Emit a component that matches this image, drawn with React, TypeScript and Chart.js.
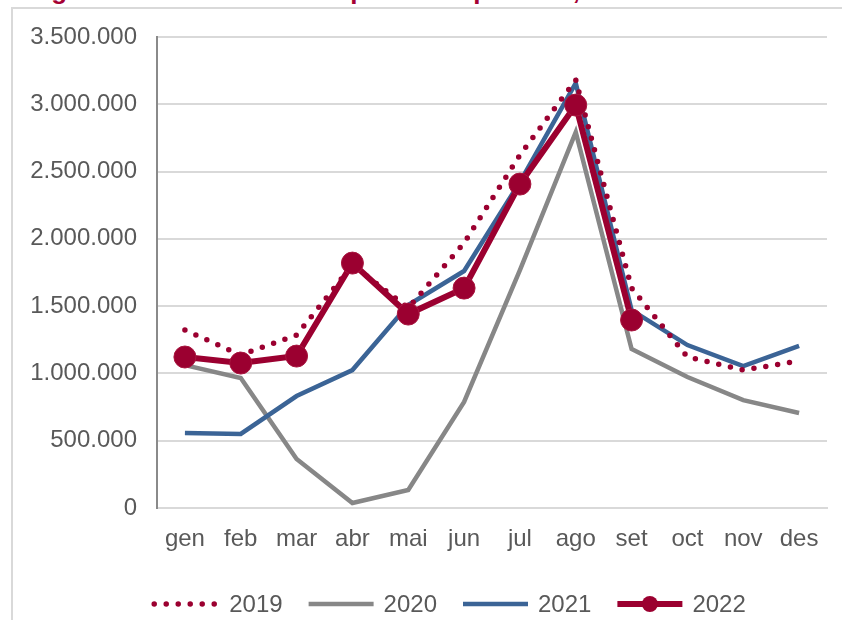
import React, { useEffect, useRef } from "react";
import { Chart, registerables } from "chart.js";

Chart.register(...registerables);

// ---- data ----
const months = ["gen", "feb", "mar", "abr", "mai", "jun", "jul", "ago", "set", "oct", "nov", "des"];
const seriesLabels = ["2019", "2020", "2021", "2022"];
const values2019 = [1322000, 1137000, 1285000, 1805000, 1486000, 1969000, 2623000, 3180000, 1634000, 1122000, 1025000, 1092000];
const values2020 = [1062000, 966000, 364000, 37000, 134000, 788000, 1768000, 2793000, 1181000, 973000, 802000, 706000];
const values2021 = [557000, 550000, 832000, 1025000, 1508000, 1761000, 2422000, 3157000, 1471000, 1211000, 1055000, 1204000];
const values2022 = [1122000, 1077000, 1129000, 1820000, 1441000, 1634000, 2407000, 2994000, 1397000, null, null, null];
const yMin = 0;
const yMax = 3500000;
const yStep = 500000;
const titleText = "Viatges amb destinació a la província per mes, 2019-2022";

const FONT = "'Liberation Sans', Arial, sans-serif";
const TEXT_COLOR = "#595959";
const RED = "#9b0030";
const FONT_SIZE = 24;

const fmtThousands = (v: number) => String(Math.round(v)).replace(/\B(?=(\d{3})+(?!\d))/g, ".");

const legendPlugin = {
  id: "customLegend",
  afterDraw(chart: any) {
    const ctx: CanvasRenderingContext2D = chart.ctx;
    const y = 604;
    const symLen = 65;
    const gapSym = 10;
    const gapItem = 26;
    ctx.save();
    ctx.font = `${FONT_SIZE}px ${FONT}`;
    const items = chart.data.datasets.map((ds: any) => ({ ds, w: ctx.measureText(ds.label).width }));
    const total =
      items.reduce((a: number, it: any) => a + symLen + gapSym + it.w, 0) + gapItem * (items.length - 1);
    let x = 450 - total / 2;
    for (const { ds, w } of items) {
      ctx.beginPath();
      ctx.strokeStyle = ds.borderColor;
      ctx.lineWidth = ds.borderWidth;
      ctx.setLineDash(ds.borderDash || []);
      ctx.lineCap = ds.borderCapStyle || "butt";
      ctx.moveTo(x, y);
      ctx.lineTo(x + symLen, y);
      ctx.stroke();
      ctx.setLineDash([]);
      if (ds.pointRadius && ds.pointRadius > 0) {
        ctx.beginPath();
        ctx.fillStyle = ds.pointBackgroundColor;
        ctx.arc(x + symLen / 2, y, 8, 0, Math.PI * 2);
        ctx.fill();
      }
      ctx.fillStyle = TEXT_COLOR;
      ctx.textBaseline = "middle";
      ctx.textAlign = "left";
      ctx.fillText(ds.label, x + symLen + gapSym, y + 1);
      x += symLen + gapSym + w + gapItem;
    }
    ctx.restore();
  },
};

export default function App() {
  const canvasRef = useRef<HTMLCanvasElement | null>(null);

  useEffect(() => {
    const canvas = canvasRef.current;
    if (!canvas) return;
    const chart = new Chart(canvas, {
      type: "line",
      data: {
        labels: months,
        datasets: [
          {
            label: seriesLabels[0],
            data: values2019,
            borderColor: RED,
            borderWidth: 5.5,
            borderDash: [0, 12],
            borderCapStyle: "round",
            pointRadius: 0,
            tension: 0,
            order: 1,
          },
          {
            label: seriesLabels[1],
            data: values2020,
            borderColor: "#878787",
            borderWidth: 4.5,
            pointRadius: 0,
            tension: 0,
            order: 3,
          },
          {
            label: seriesLabels[2],
            data: values2021,
            borderColor: "#3b6496",
            borderWidth: 4.5,
            pointRadius: 0,
            tension: 0,
            order: 2,
          },
          {
            label: seriesLabels[3],
            data: values2022,
            borderColor: RED,
            borderWidth: 6,
            pointRadius: 11,
            pointBackgroundColor: RED,
            pointBorderColor: "#a8163f",
            pointBorderWidth: 1,
            tension: 0,
            order: 0,
          },
        ] as any,
      },
      options: {
        responsive: false,
        animation: false,
        devicePixelRatio: 1,
        layout: { padding: { left: 0, right: 15, top: 37, bottom: 0 } },
        plugins: {
          legend: { display: false },
          tooltip: { enabled: false },
          title: { display: false },
        },
        scales: {
          x: {
            offset: true,
            grid: { display: false, drawTicks: false },
            border: { color: "#d9d9d9", width: 2 },
            ticks: {
              padding: 17,
              color: TEXT_COLOR,
              font: { family: FONT, size: FONT_SIZE },
              maxRotation: 0,
              autoSkip: false,
            },
            afterFit: (s: any) => {
              s.height = 112;
            },
          },
          y: {
            min: yMin,
            max: yMax,
            ticks: {
              stepSize: yStep,
              padding: 20,
              color: TEXT_COLOR,
              font: { family: FONT, size: FONT_SIZE },
              callback: (v: any) => fmtThousands(Number(v)),
            },
            grid: { color: "#d9d9d9", lineWidth: 2, drawTicks: false },
            border: { color: "#8a8a8a", width: 2 },
            afterFit: (s: any) => {
              s.width = 157;
            },
          },
        },
      } as any,
      plugins: [legendPlugin],
    });
    return () => chart.destroy();
  }, []);

  return (
    <div
      style={{
        position: "fixed",
        left: 0,
        top: 0,
        width: 842,
        height: 620,
        overflow: "hidden",
        background: "#ffffff",
      }}
    >
      <div
        style={{
          position: "absolute",
          left: 4,
          top: -22,
          lineHeight: "24px",
          fontSize: 26,
          fontWeight: "bold",
          fontFamily: FONT,
          color: "#a50034",
          whiteSpace: "nowrap",
        }}
      >
        {titleText}
      </div>
      <div
        style={{
          position: "absolute",
          left: 11,
          top: 7,
          width: 900,
          height: 700,
          border: "2px solid #d9d9d9",
          boxSizing: "border-box",
        }}
      />
      <canvas
        ref={canvasRef}
        width={842}
        height={620}
        style={{ position: "absolute", left: 0, top: 0, width: 842, height: 620 }}
      />
    </div>
  );
}
